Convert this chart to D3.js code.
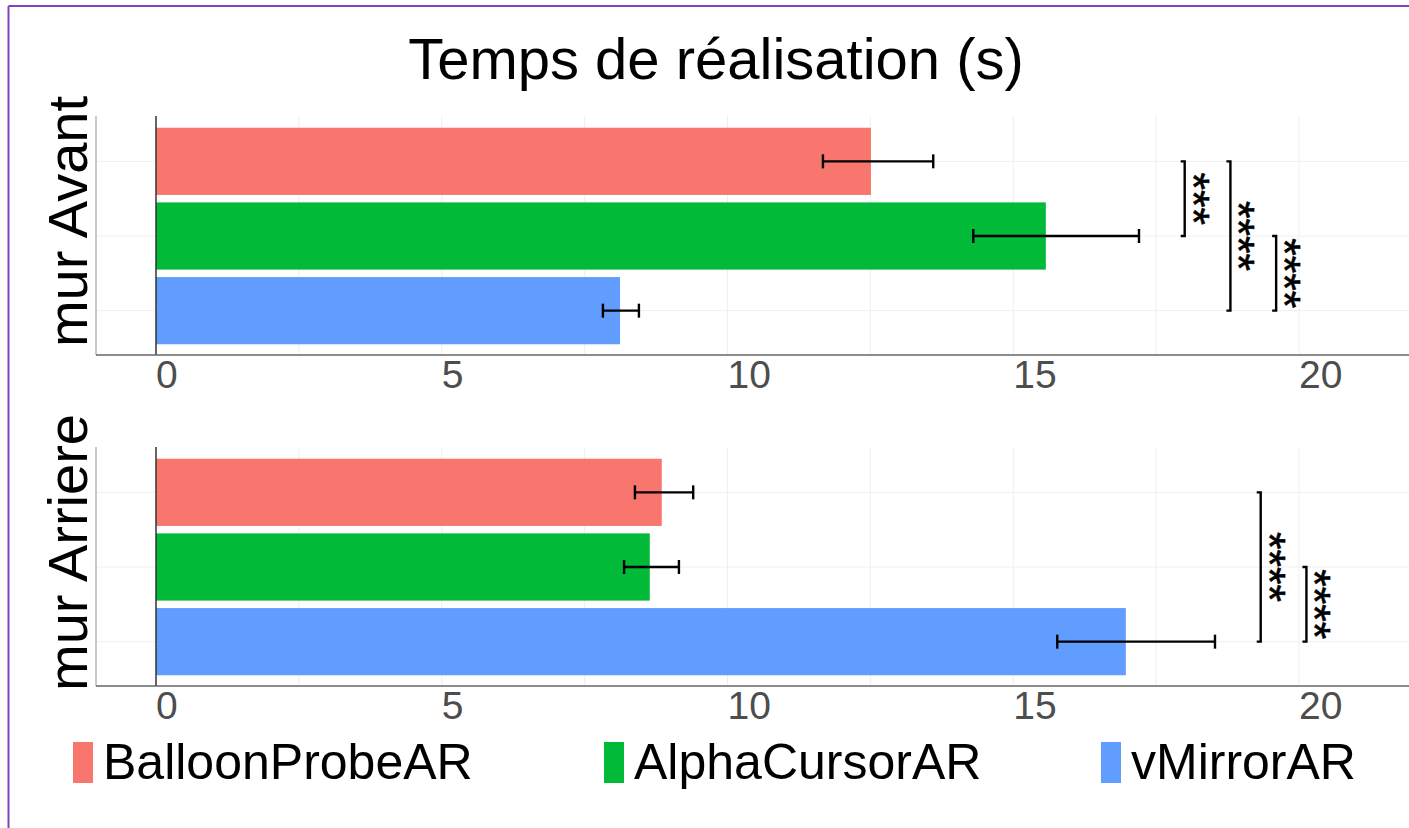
<!DOCTYPE html>
<html>
<head>
<meta charset="utf-8">
<title>Temps de réalisation</title>
<script src="https://cdnjs.cloudflare.com/ajax/libs/d3/7.8.5/d3.min.js"></script>
<style>
  body { margin: 0; background: #fff; }
  svg { display: block; font-family: "Liberation Sans", Arial, sans-serif; }
  .grid line { stroke: #efefef; stroke-width: 1; }
  .tick-label { fill: #4d4d4d; font-size: 39px; }
  .facet-label { fill: #000; font-size: 56px; }
  .stars { fill: #000; stroke: #000; stroke-width: 0.6; font-size: 45px; }
  .legend text { font-size: 50px; fill: #000; }
</style>
</head>
<body>
<svg width="1409" height="828"></svg>
<script>
// categories
var methods = ["BalloonProbeAR", "AlphaCursorAR", "vMirrorAR"];
var colors = ["#F8766D", "#00BA38", "#619CFF"];
var walls = ["mur Avant", "mur Arriere"];
var xTicks = [0, 5, 10, 15, 20];

// mean time (s) per method, one array per wall
var meanAvant = [12.51, 15.57, 8.12];
var lowAvant = [11.67, 14.30, 7.82];
var highAvant = [13.60, 17.20, 8.45];

var meanArriere = [8.85, 8.64, 16.97];
var lowArriere = [8.38, 8.19, 15.77];
var highArriere = [9.40, 9.15, 18.53];

// significance brackets: [from row, to row, x position (s), label]
var sigAvant = [[0, 1, 18.0, "***"], [0, 2, 18.8, "****"], [1, 2, 19.6, "****"]];
var sigArriere = [[0, 2, 19.33, "****"], [1, 2, 20.13, "****"]];

var svg = d3.select("svg"),
    width = +svg.attr("width"),
    height = +svg.attr("height");

// page frame (only top and left edges visible)
svg.append("line").attr("x1", 8.5).attr("x2", width).attr("y1", 6).attr("y2", 6)
   .attr("stroke", "#7e44c0").attr("stroke-width", 2);
svg.append("line").attr("x1", 8.5).attr("x2", 8.5).attr("y1", 6).attr("y2", height)
   .attr("stroke", "#7e44c0").attr("stroke-width", 2);

svg.append("text")
   .attr("x", 716).attr("y", 79)
   .attr("text-anchor", "middle")
   .style("font-size", "58px")
   .text("Temps de réalisation (s)");

var x = d3.scaleLinear().domain([0, 20]).range([156, 1299]);
var axisLeft = 96;

var panels = [
  {wall: walls[0], top: 116, bottom: 355, mean: meanAvant, low: lowAvant, high: highAvant, sig: sigAvant},
  {wall: walls[1], top: 447, bottom: 686, mean: meanArriere, low: lowArriere, high: highArriere, sig: sigArriere}
];

panels.forEach(function(p) {
  var y = d3.scaleBand()
      .domain(methods)
      .range([p.top + 8, p.top + 232])
      .paddingInner(0.1)
      .paddingOuter(0.05);

  var rows = methods.map(function(m, i) {
    return {method: m, color: colors[i], mean: p.mean[i], low: p.low[i], high: p.high[i]};
  });

  var g = svg.append("g");

  // grid
  var grid = g.append("g").attr("class", "grid");
  grid.selectAll(".gv")
    .data(d3.range(2.5, 22.5, 2.5))
    .enter().append("line")
      .attr("x1", function(d) { return x(d); })
      .attr("x2", function(d) { return x(d); })
      .attr("y1", p.top).attr("y2", p.bottom);
  grid.selectAll(".gh")
    .data(methods)
    .enter().append("line")
      .attr("x1", axisLeft).attr("x2", width)
      .attr("y1", function(d) { return y(d) + y.bandwidth() / 2; })
      .attr("y2", function(d) { return y(d) + y.bandwidth() / 2; });

  // bars
  g.selectAll(".bar")
    .data(rows)
    .enter().append("rect")
      .attr("x", x(0))
      .attr("y", function(d) { return y(d.method); })
      .attr("width", function(d) { return x(d.mean) - x(0); })
      .attr("height", y.bandwidth())
      .attr("fill", function(d) { return d.color; });

  // error bars
  var eb = g.selectAll(".err")
    .data(rows)
    .enter().append("g")
      .attr("transform", function(d) { return "translate(0," + (y(d.method) + y.bandwidth() / 2) + ")"; })
      .attr("stroke", "#000").attr("stroke-width", 2.4);
  eb.append("line")
    .attr("x1", function(d) { return x(d.low); })
    .attr("x2", function(d) { return x(d.high); });
  eb.append("line")
    .attr("x1", function(d) { return x(d.low); })
    .attr("x2", function(d) { return x(d.low); })
    .attr("y1", -7).attr("y2", 7);
  eb.append("line")
    .attr("x1", function(d) { return x(d.high); })
    .attr("x2", function(d) { return x(d.high); })
    .attr("y1", -7).attr("y2", 7);

  // axes lines
  g.append("line").attr("x1", axisLeft).attr("x2", axisLeft)
    .attr("y1", p.top).attr("y2", p.bottom)
    .attr("stroke", "#a6a6a6").attr("stroke-width", 1.2);
  g.append("line").attr("x1", x(0)).attr("x2", x(0))
    .attr("y1", p.top).attr("y2", p.bottom)
    .attr("stroke", "#333").attr("stroke-width", 1.5);
  g.append("line").attr("x1", axisLeft).attr("x2", width)
    .attr("y1", p.bottom).attr("y2", p.bottom)
    .attr("stroke", "#666").attr("stroke-width", 1.5);

  // tick labels
  g.selectAll(".tick-label")
    .data(xTicks)
    .enter().append("text")
      .attr("class", "tick-label")
      .attr("x", function(d) { return x(d); })
      .attr("y", p.bottom + 33)
      .text(function(d) { return d; });

  // facet label
  g.append("text")
    .attr("class", "facet-label")
    .attr("text-anchor", "middle")
    .attr("transform", "translate(87," + ((p.top + p.bottom) / 2 - 14) + ") rotate(-90)")
    .text(p.wall);

  // significance brackets
  p.sig.forEach(function(s) {
    var y1 = y(methods[s[0]]) + y.bandwidth() / 2,
        y2 = y(methods[s[1]]) + y.bandwidth() / 2,
        bx = x(s[2]);
    g.append("path")
      .attr("d", "M" + (bx - 4) + "," + y1 + "H" + bx + "V" + y2 + "H" + (bx - 4))
      .attr("fill", "none").attr("stroke", "#000").attr("stroke-width", 2.4);
    g.append("text")
      .attr("class", "stars")
      .attr("text-anchor", "middle")
      .attr("transform", "translate(" + (bx - 7) + "," + ((y1 + y2) / 2) + ") rotate(90)")
      .text(s[3]);
  });
});

// legend
var legendX = [73, 604, 1101];
var legend = svg.append("g").attr("class", "legend")
  .selectAll("g")
  .data(methods)
  .enter().append("g")
    .attr("transform", function(d, i) { return "translate(" + legendX[i] + ",742)"; });
legend.append("rect")
  .attr("width", 20).attr("height", 41)
  .attr("fill", function(d, i) { return colors[i]; });
legend.append("text")
  .attr("x", 30).attr("y", 37)
  .text(function(d) { return d; });
</script>
</body>
</html>
